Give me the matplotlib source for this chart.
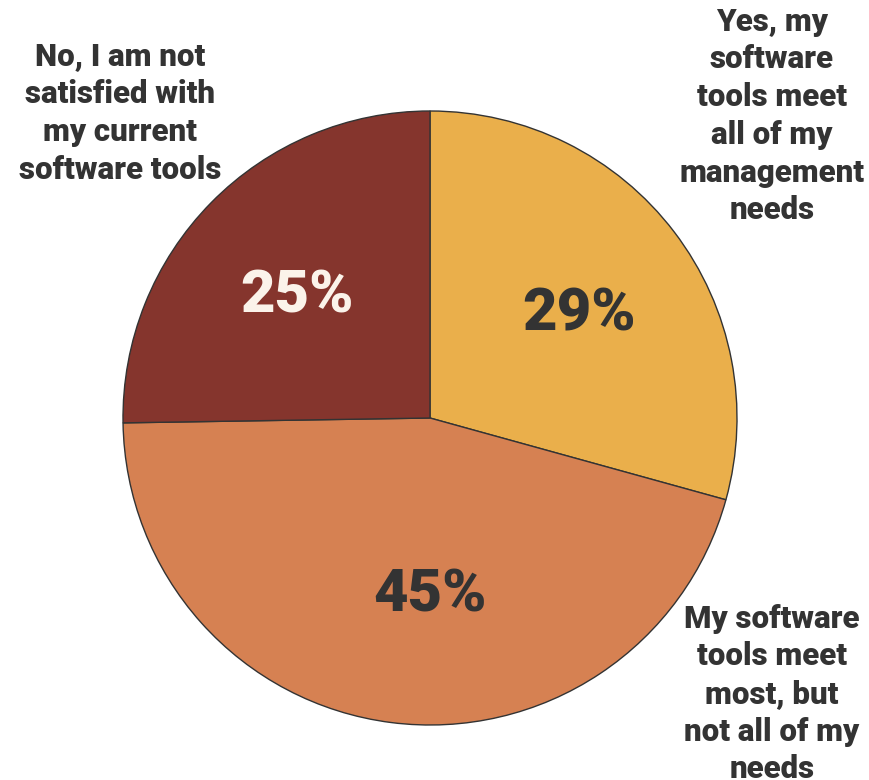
import matplotlib.pyplot as plt

# Survey answers, clockwise from the top
answers = [
    "Yes, my\nsoftware\ntools meet\nall of my\nmanagement\nneeds",
    "My software\ntools meet\nmost, but\nnot all of my\nneeds",
    "No, I am not\nsatisfied with\nmy current\nsoftware tools",
]
shares = [29, 45, 25]
colors = ["#EAAF4B", "#D68152", "#85352D"]
pct_colors = ["#333333", "#333333", "#FBF3EA"]

plt.rcParams["font.family"] = ["Roboto", "DejaVu Sans"]

fig = plt.figure(figsize=(8.7, 7.8), dpi=100)
ax = fig.add_axes([0, 0, 1, 1])

wedges, _, autotexts = ax.pie(
    shares,
    colors=colors,
    startangle=90,
    counterclock=False,
    center=(430, 362),
    radius=307,
    autopct="%d%%",
    pctdistance=0.61,
    wedgeprops=dict(edgecolor="#333333", linewidth=1),
    textprops=dict(fontsize=43, fontweight="black"),
)
ax.set_xlim(0, 870)
ax.set_ylim(0, 780)
ax.set_aspect("equal")
ax.axis("off")
for t, c in zip(autotexts, pct_colors):
    t.set_color(c)
    x, y = t.get_position()
    t.set_position((x, y - 10))
# the 45% label sits straight below the centre in the original
autotexts[1].set_position((430, 185))

# outer labels
label_pos = [(772, 664), (772, 86), (120, 667)]
for text, (x, y) in zip(answers, label_pos):
    ax.text(x, y, text, ha="center", va="center", fontsize=22.5,
            fontweight="black", color="#333333", linespacing=1.32)

fig.savefig("out.png", dpi=100)
